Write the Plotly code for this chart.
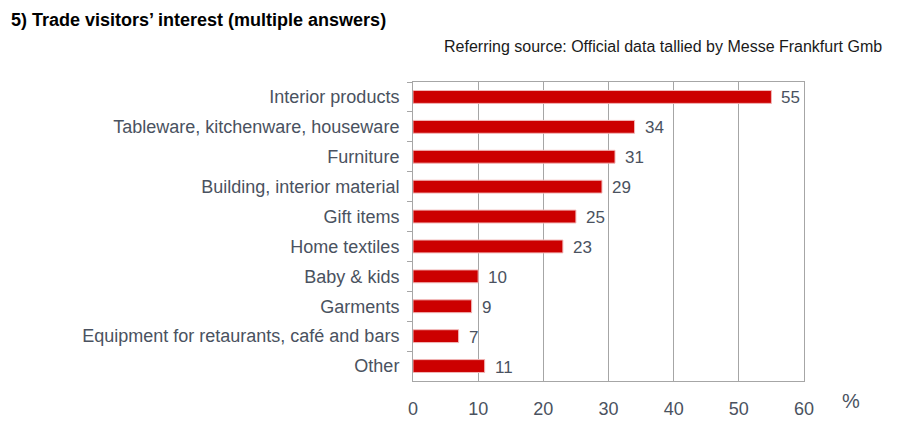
import plotly.graph_objects as go

categories = ["Interior products", "Tableware, kitchenware, houseware", "Furniture",
              "Building, interior material", "Gift items", "Home textiles",
              "Baby & kids", "Garments", "Equipment for retaurants, café and bars", "Other"]
values = [55, 34, 31, 29, 25, 23, 10, 9, 7, 11]
x_ticks = [0, 10, 20, 30, 40, 50, 60]

FONT = "Liberation Sans, Arial"
TXT = "#4A5260"

fig = go.Figure()
fig.add_trace(go.Bar(
    x=values, y=categories, orientation="h",
    marker=dict(color="#CC0000", line=dict(color="#F2B8B8", width=1)),
    width=0.43, hoverinfo="skip",
))

for c, v in zip(categories, values):
    fig.add_annotation(x=v, y=c, text=str(v), showarrow=False, xanchor="left",
                       xshift=8, yshift=-1, font=dict(family=FONT, size=17, color=TXT))

fig.add_annotation(xref="x domain", yref="y domain",
                   x=(851 - 413) / 391, y=-(403 - 383) / 301, text="%", showarrow=False,
                   xanchor="center", yanchor="middle",
                   font=dict(family=FONT, size=20, color=TXT))

fig.add_annotation(text="<b>5) Trade visitors’ interest (multiple answers)</b>", xref="paper", yref="paper",
                   x=(9 - 413) / 391, y=1 + (82 - 20) / 301, xanchor="left", yanchor="middle",
                   showarrow=False, font=dict(family=FONT, size=18, color="#000000"))
fig.add_annotation(text="Referring source: Official data tallied by Messe Frankfurt Gmb", xref="paper", yref="paper",
                   x=(884 - 413) / 391, y=1 + (82 - 46) / 301, xanchor="right", yanchor="middle",
                   showarrow=False, font=dict(family=FONT, size=16, color="#1a1a1a"))

fig.update_layout(
    width=900, height=431,
    margin=dict(l=413, r=96, t=82, b=48),
    paper_bgcolor="white", plot_bgcolor="white",
    showlegend=False,
    font=dict(family=FONT, size=18, color=TXT),
    bargap=0.57,
)
fig.update_xaxes(range=[0, 60], tickvals=x_ticks, showgrid=True, gridcolor="#A6A6A6", gridwidth=1,
                 showline=True, linecolor="#A6A6A6", linewidth=1, mirror=True,
                 ticks="", ticklabelstandoff=11, zeroline=False, fixedrange=True,
                 tickfont=dict(size=18, color=TXT))
fig.update_yaxes(categoryorder="array", categoryarray=categories, autorange="reversed",
                 showline=True, linecolor="#A6A6A6", linewidth=1, mirror=True,
                 ticks="outside", tickson="boundaries", ticklen=5, tickcolor="#A6A6A6",
                 ticklabelstandoff=9, showgrid=False, fixedrange=True,
                 tickfont=dict(size=18, color=TXT))

fig.write_html("out.html")
